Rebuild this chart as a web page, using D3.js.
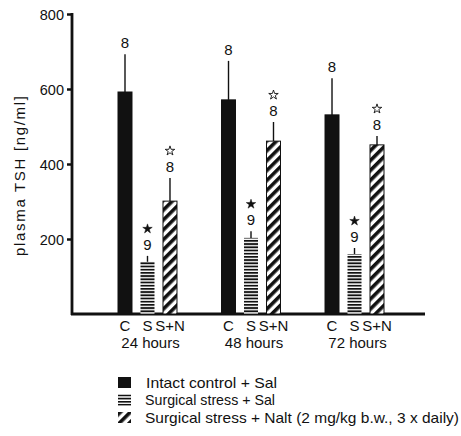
<!DOCTYPE html>
<html>
<head>
<meta charset="utf-8">
<script src="https://cdn.jsdelivr.net/npm/d3@7"></script>
<style>
  body { margin: 0; background: #fff; }
  svg text { font-family: "Liberation Sans", Arial, sans-serif; fill: #111; }
</style>
</head>
<body>
<div id="chart"></div>
<script>
// data
var groups = ["24 hours", "48 hours", "72 hours"];
var treatments = ["C", "S", "S+N"];
var meanC = [592, 571, 531];
var meanS = [139, 203, 160];
var meanSN = [301, 461, 451];
var semC = [101, 104, 98];
var semS = [16, 18, 16];
var semSN = [62, 51, 24];
var nC = [8, 8, 8];
var nS = [9, 9, 9];
var nSN = [8, 8, 8];
var yTicks = [200, 400, 600, 800];
var legendLabels = [
    "Intact control + Sal",
    "Surgical stress + Sal",
    "Surgical stress + Nalt (2 mg/kg b.w., 3 x daily)"
];

var data = [];
groups.forEach(function(g, i) {
    data.push({ group: g, trt: "C", value: meanC[i], sem: semC[i], n: nC[i], star: null });
    data.push({ group: g, trt: "S", value: meanS[i], sem: semS[i], n: nS[i], star: "filled" });
    data.push({ group: g, trt: "S+N", value: meanSN[i], sem: semSN[i], n: nSN[i], star: "open" });
});

var width = 461, height = 436;

var svg = d3.select("#chart").append("svg")
    .attr("width", width)
    .attr("height", height);

// patterns
var defs = svg.append("defs");
var stripes = defs.append("pattern")
    .attr("id", "stripes")
    .attr("patternUnits", "userSpaceOnUse")
    .attr("width", 6).attr("height", 3.2);
stripes.append("rect").attr("width", 6).attr("height", 3.2).attr("fill", "#fff");
stripes.append("rect").attr("y", 0).attr("width", 6).attr("height", 1.8).attr("fill", "#111");

var hatch = defs.append("pattern")
    .attr("id", "hatch")
    .attr("patternUnits", "userSpaceOnUse")
    .attr("width", 7).attr("height", 7)
    .attr("patternTransform", "rotate(45)");
hatch.append("rect").attr("width", 7).attr("height", 7).attr("fill", "#fff");
hatch.append("rect").attr("width", 3.6).attr("height", 7).attr("fill", "#111");

var fills = { "C": "#111", "S": "url(#stripes)", "S+N": "url(#hatch)" };

// scales
var y = d3.scaleLinear().domain([0, 800]).range([314, 14]);
var x0 = d3.scaleBand().domain(groups).range([113.75, 388.25]).paddingInner(0.348).paddingOuter(0);
var x1 = d3.scaleBand().domain(treatments).range([0, x0.bandwidth()]).paddingInner(0.378).paddingOuter(0.189);

// y axis
var yAxis = svg.append("g")
    .attr("transform", "translate(72,0)")
    .call(d3.axisLeft(y).tickValues(yTicks).tickSize(5).tickSizeOuter(0).tickPadding(3));
yAxis.select(".domain").remove();
yAxis.selectAll(".tick line").attr("stroke", "#111").attr("stroke-width", 2.5);
yAxis.selectAll(".tick text").style("font-size", "14.5px").attr("dy", "0.36em");
yAxis.append("line")
    .attr("x1", 0).attr("x2", 0)
    .attr("y1", y(800) - 1).attr("y2", y(0) + 1)
    .attr("stroke", "#111").attr("stroke-width", 2.8);

// baseline
svg.append("line")
    .attr("x1", 71).attr("x2", 425)
    .attr("y1", y(0)).attr("y2", y(0))
    .attr("stroke", "#111").attr("stroke-width", 2.8);

svg.append("text")
    .attr("transform", "translate(25," + 176 + ") rotate(-90)")
    .attr("text-anchor", "middle")
    .attr("textLength", 160)
    .attr("lengthAdjust", "spacing")
    .style("font-size", "15px")
    .text("plasma TSH [ng/ml]");

// bars
var bar = svg.selectAll(".bar")
    .data(data)
    .enter().append("g")
    .attr("class", "bar")
    .attr("transform", function(d) { return "translate(" + (x0(d.group) + x1(d.trt)) + ",0)"; });

var bw = x1.bandwidth();

// error bars
bar.append("line")
    .attr("x1", bw / 2).attr("x2", bw / 2)
    .attr("y1", function(d) { return y(d.value); })
    .attr("y2", function(d) { return y(d.value + d.sem); })
    .attr("stroke", "#111").attr("stroke-width", 1.4);

bar.append("rect")
    .attr("x", 0)
    .attr("y", function(d) { return y(d.value); })
    .attr("width", bw)
    .attr("height", function(d) { return y(0) - y(d.value); })
    .attr("fill", function(d) { return fills[d.trt]; })
    .attr("stroke", function(d) { return d.trt == "S" ? "none" : "#111"; })
    .attr("stroke-width", 1);

// n labels
bar.append("text")
    .attr("x", bw / 2)
    .attr("y", function(d) { return y(d.value + d.sem) - 6; })
    .attr("text-anchor", "middle")
    .style("font-size", "15px")
    .text(function(d) { return d.n; });

// significance stars
bar.filter(function(d) { return d.star; })
    .append("path")
    .attr("transform", function(d) { return "translate(" + bw / 2 + "," + (y(d.value + d.sem) - 27) + ")"; })
    .attr("d", d3.symbol().type(d3.symbolStar).size(28))
    .attr("fill", function(d) { return d.star == "filled" ? "#111" : "#fff"; })
    .attr("stroke", "#111")
    .attr("stroke-width", function(d) { return d.star == "filled" ? 0.5 : 0.9; });

// x labels
data.forEach(function(d) {
    svg.append("text")
        .attr("x", x0(d.group) + x1(d.trt) + bw / 2)
        .attr("y", 331)
        .attr("text-anchor", "middle")
        .style("font-size", "15px")
        .text(d.trt);
});
svg.selectAll(".grouplabel")
    .data(groups)
    .enter().append("text")
    .attr("class", "grouplabel")
    .attr("x", function(g) { return x0(g) + x0.bandwidth() / 2 + 3; })
    .attr("y", 348)
    .attr("text-anchor", "middle")
    .style("font-size", "15px")
    .text(function(g) { return g; });

// legend
var legendWidths = [131, 130, 314];
var legend = svg.selectAll(".legend")
    .data(legendLabels)
    .enter().append("g")
    .attr("class", "legend")
    .attr("transform", function(d, i) { return "translate(118," + (377 + i * 17.5) + ")"; });

legend.append("rect")
    .attr("width", 13).attr("height", 11)
    .attr("fill", function(d, i) { return fills[treatments[i]]; });

legend.append("text")
    .attr("x", function(d, i) { return i == 0 ? 28 : 27; })
    .attr("y", 10.5)
    .attr("textLength", function(d, i) { return legendWidths[i]; })
    .attr("lengthAdjust", "spacingAndGlyphs")
    .style("font-size", "15px")
    .text(function(d) { return d; });
</script>
</body>
</html>
